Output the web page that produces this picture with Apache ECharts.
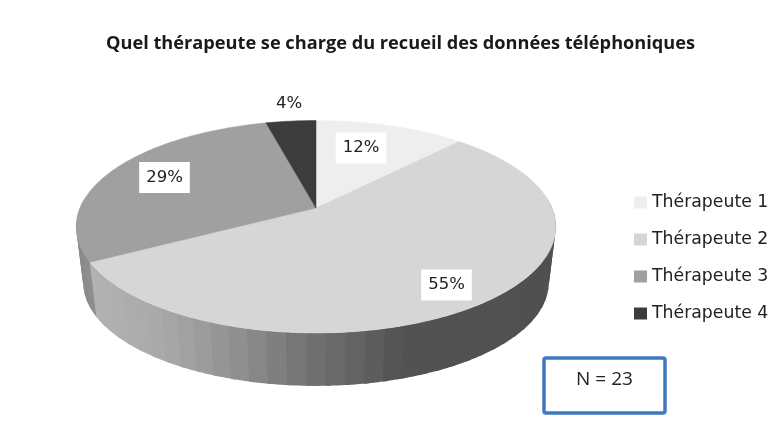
<!DOCTYPE html>
<html>
<head>
<meta charset="utf-8">
<style>
  html, body { margin: 0; padding: 0; background: #fff; }
  /* the reference is a soft, upscaled picture */
  #chart { width: 778px; height: 446px; filter: blur(0.5px); }
</style>
<script src="https://cdn.jsdelivr.net/npm/echarts@6/dist/echarts.min.js"></script>
</head>
<body>
<div id="chart"></div>
<script>
  const titleText = 'Quel thérapeute se charge du recueil des données téléphoniques';
  const categories = ['Thérapeute 1', 'Thérapeute 2', 'Thérapeute 3', 'Thérapeute 4'];
  const shares = [12, 55, 29, 4];
  const sampleSize = 'N = 23';

  const colors = ['#eeeeee', '#d6d6d6', '#a0a0a0', '#3c3c3c'];
  // wall shading per slice, [x in px, grey level]
  const wallRamps = [
    [[0, 0x90]],
    [[91, 0xb2], [160, 0xaa], [200, 0x9e], [250, 0x8c], [316, 0x70], [380, 0x5d], [405, 0x52], [560, 0x50]],
    [[75, 0x86], [91, 0x90]],
    [[0, 0x40]]
  ];
  // label box centres in px
  const labelCentres = [[361, 148], [446.5, 285], [164.5, 177.5], [289, 104]];

  // the pie is tilted: a unit circle goes through a perspective map
  const apexX = 316, apexY = 208, radiusX = 236, slopeY = -66.2, persp = 0.1765;
  const wallScale = 0.9707, vanishY = 2139;
  const wallStep = 4;

  function project(deg, r) {
    let t = deg * Math.PI / 180;
    let u = r * Math.sin(t), v = r * Math.cos(t);
    let d = 1 + persp * v;
    return [apexX + radiusX * u / d, (apexY + slopeY * v) / d];
  }

  function dropDown(p) {
    return [apexX + (p[0] - apexX) * wallScale, vanishY + (p[1] - vanishY) * wallScale];
  }

  function wallGrey(ramp, x) {
    if (x <= ramp[0][0]) return ramp[0][1];
    for (let i = 1; i < ramp.length; i++) {
      if (x <= ramp[i][0]) {
        let k = (x - ramp[i - 1][0]) / (ramp[i][0] - ramp[i - 1][0]);
        return Math.round(ramp[i - 1][1] + k * (ramp[i][1] - ramp[i - 1][1]));
      }
    }
    return ramp[ramp.length - 1][1];
  }

  function renderSlice(params, api) {
    let idx = params.seriesIndex;
    let from = api.value(0) * 3.6;
    let to = api.value(1) * 3.6;
    let children = [];

    // side wall, only the front part can be seen. Bands run right to left
    // and each one reaches under the next so no seam shows between them
    let wallFrom = Math.max(from, 85), wallTo = Math.min(to, 275);
    for (let a = wallFrom; a < wallTo; a += wallStep) {
      let b = Math.min(a + wallStep + 1, wallTo);
      let points = [];
      for (let c = a; c < b; c += 0.5) points.push(project(c, 1));
      points.push(project(b, 1));
      points.push(dropDown(project(b, 1)));
      for (let c = b - 0.5; c > a; c -= 0.5) points.push(dropDown(project(c, 1)));
      points.push(dropDown(project(a, 1)));
      let g = wallGrey(wallRamps[idx], project(a + wallStep / 2, 1)[0]);
      children.push({
        type: 'polygon',
        shape: { points: points },
        style: { fill: 'rgb(' + g + ',' + g + ',' + g + ')' }
      });
    }
    children.reverse();

    let top = [[apexX, apexY]];
    for (let a = from; a < to; a += 1) top.push(project(a, 1));
    top.push(project(to, 1));
    children.push({
      type: 'polygon',
      shape: { points: top },
      style: { fill: colors[idx], stroke: colors[idx], lineWidth: 0.5 }
    });

    return { type: 'group', children: children };
  }

  function renderLabel(params, api) {
    let idx = api.value(0);
    return {
      type: 'text',
      x: labelCentres[idx][0],
      y: labelCentres[idx][1],
      style: {
        text: shares[idx] + '%',
        font: '16.5px "DejaVu Sans"',
        fill: '#222222',
        align: 'center',
        verticalAlign: 'middle',
        backgroundColor: '#ffffff',
        padding: [7, 7, 7, 7]
      }
    };
  }

  let sliceSeries = [];
  let done = 0;
  categories.forEach(function (name, i) {
    sliceSeries.push({
      name: name,
      type: 'custom',
      coordinateSystem: 'none',
      renderItem: renderSlice,
      itemStyle: { color: colors[i] },
      data: [[done, done + shares[i]]],
      silent: true,
      z: 2
    });
    done += shares[i];
  });

  sliceSeries.push({
    type: 'custom',
    coordinateSystem: 'none',
    renderItem: renderLabel,
    data: shares.map(function (v, i) { return [i]; }),
    silent: true,
    z: 5
  });

  let myChart = echarts.init(document.getElementById('chart'), null, { renderer: 'canvas' });
  myChart.setOption({
    animation: false,
    backgroundColor: '#ffffff',
    title: {
      text: titleText,
      left: 106,
      top: 35,
      padding: 0,
      textStyle: { fontFamily: 'Open Sans', fontSize: 18.2, fontWeight: 'bold', color: '#1a1a1a' }
    },
    legend: {
      data: categories,
      orient: 'vertical',
      left: 634,
      top: 194,
      padding: 0,
      icon: 'rect',
      itemWidth: 13,
      itemHeight: 12,
      itemGap: 20,
      selectedMode: false,
      textStyle: { fontFamily: 'DejaVu Sans', fontSize: 17.3, color: '#222222' }
    },
    graphic: [
      {
        type: 'rect',
        shape: { x: 544, y: 358, width: 121, height: 55, r: 2 },
        style: { fill: '#ffffff', stroke: '#3f7abf', lineWidth: 3.5 }
      },
      {
        type: 'text',
        x: 604.5,
        y: 380,
        style: {
          text: sampleSize,
          font: '19px "Open Sans"',
          fill: '#222222',
          align: 'center',
          verticalAlign: 'middle'
        }
      }
    ],
    series: sliceSeries
  });
</script>
</body>
</html>
